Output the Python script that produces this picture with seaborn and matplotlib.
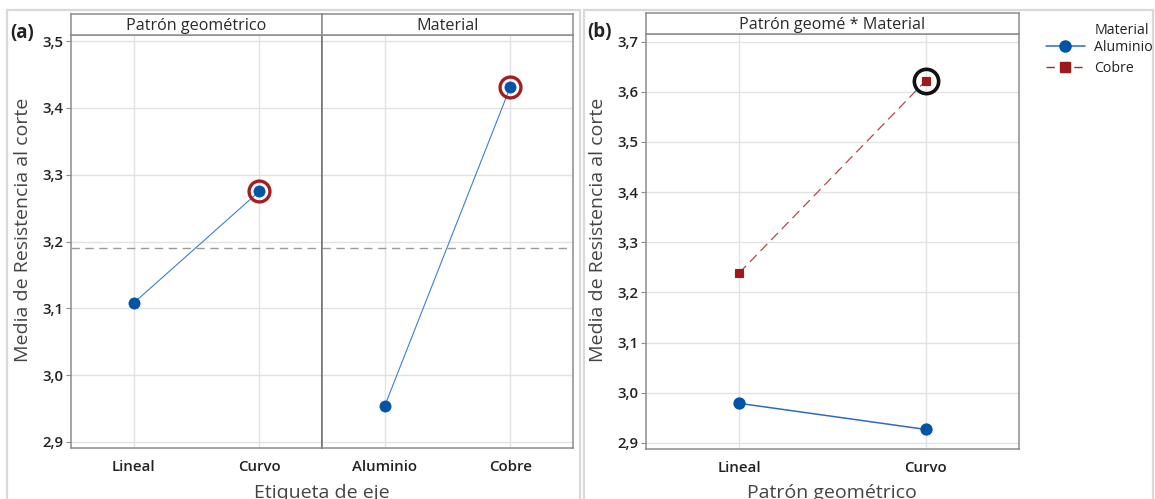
import matplotlib
matplotlib.use("Agg")
import matplotlib.pyplot as plt
import seaborn as sns
import pandas as pd
import numpy as np
from matplotlib.patches import Rectangle
from matplotlib.lines import Line2D
from matplotlib.ticker import FixedLocator, FixedFormatter

# ---- data: means of shear strength ----
patron = ["Lineal", "Curvo"]
material = ["Aluminio", "Cobre"]
media_patron = [3.108, 3.275]        # main effect: geometric pattern
media_material = [2.954, 3.431]      # main effect: material
media_global = 3.191                 # overall mean (reference line)
media_aluminio = [2.979, 2.927]      # interaction: Aluminio at Lineal, Curvo
media_cobre = [3.239, 3.622]         # interaction: Cobre at Lineal, Curvo

yticks_a = [2.9, 3.0, 3.1, 3.2, 3.3, 3.4, 3.5]
yticks_b = [2.9, 3.0, 3.1, 3.2, 3.3, 3.4, 3.5, 3.6, 3.7]
ylabel = "Media de Resistencia al corte"

W, H = 1155, 499
BLUE = "#0054a6"
BLUE_LINE = "#3d7fcf"
RED = "#9e1a1a"
RING_RED = "#a31e22"
GRID = "#e2e2e2"
SPINE = "#8c8c8c"
TXT = "#2a2a2a"

sns.set_theme(style="white")
plt.rcParams["font.family"] = ["Open Sans", "DejaVu Sans"]
plt.rcParams["lines.scale_dashes"] = False

fig = plt.figure(figsize=(W / 100, H / 100), dpi=100)


def fx(px):
    return px / W


def fy(px):
    return 1 - px / H


def comma(v):
    return f"{v:.1f}".replace(".", ",")


def style_axes(ax, yticks, ylim, show_y):
    ax.set_xlim(-0.5, 1.5)
    ax.set_ylim(*ylim)
    ax.set_xlabel("")
    ax.set_ylabel("")
    ax.yaxis.set_major_locator(FixedLocator(yticks))
    ax.yaxis.set_major_formatter(FixedFormatter([comma(v) for v in yticks]))
    ax.grid(True, color=GRID, linewidth=1.0)
    ax.set_axisbelow(True)
    for s in ax.spines.values():
        s.set_color(SPINE)
        s.set_linewidth(1.1)
    ax.tick_params(axis="both", which="both", length=3.5, width=0.8,
                   color=SPINE, labelsize=10.8, labelcolor="#222222")
    ax.tick_params(axis="x", pad=5)
    ax.tick_params(axis="y", pad=2, left=show_y, labelleft=show_y)
    for lab in ax.get_xticklabels() + ax.get_yticklabels():
        lab.set_fontweight("semibold")


def strip(x0, x1, y0, y1, text):
    s = fig.add_axes([fx(x0), fy(y1), fx(x1 - x0), (y1 - y0) / H])
    s.set_xticks([])
    s.set_yticks([])
    s.set_facecolor("white")
    for sp in s.spines.values():
        sp.set_color(SPINE)
        sp.set_linewidth(1.1)
    s.text(0.5, 0.45, text, ha="center", va="center", fontsize=11.6, color=TXT,
           transform=s.transAxes)
    return s


# ---- outer panel frames ----
for x0, x1 in [(7, 580), (584, 1153)]:
    fig.add_artist(Rectangle((fx(x0), -0.1), fx(x1 - x0), fy(10) + 0.1,
                             transform=fig.transFigure, fill=False,
                             edgecolor="#d9d9d9", linewidth=1.6))

# ---- (a) main effects ----
ylim_a = (2.891, 3.509)
ax1 = fig.add_axes([fx(71), fy(448), fx(251), (448 - 35) / H])
ax2 = fig.add_axes([fx(322), fy(448), fx(251), (448 - 35) / H])

df_p = pd.DataFrame({"nivel": patron, "media": media_patron})
df_m = pd.DataFrame({"nivel": material, "media": media_material})

for ax, df, order, vals in [(ax1, df_p, patron, media_patron),
                            (ax2, df_m, material, media_material)]:
    sns.pointplot(data=df, x="nivel", y="media", order=order, color=BLUE,
                  errorbar=None, markers="o", linestyles="-",
                  markersize=8, linewidth=0.8, ax=ax)
    ln = ax.lines[0]
    ln.set_color(BLUE_LINE)
    ln.set_markerfacecolor(BLUE)
    ln.set_markeredgecolor(BLUE)
    ax.axhline(media_global, color="#9a9a9a", linewidth=1.0,
               dashes=(6, 4), zorder=1)
    i = int(np.argmax(vals))
    ax.plot([i], [vals[i]], marker="o", markersize=15, markerfacecolor="none",
            markeredgecolor=RING_RED, markeredgewidth=2.4, linestyle="none",
            zorder=5)
    style_axes(ax, yticks_a, ylim_a, show_y=(ax is ax1))

ax1.spines["right"].set_color("#707070")
ax2.spines["left"].set_color("#707070")

strip(71, 322, 14, 35, "Patrón geométrico")
strip(322, 573, 14, 35, "Material")

fig.text(fx(22), fy(33), "(a)", fontsize=13.5, fontweight="bold",
         ha="center", va="center", color="#222222")
fig.text(fx(23), fy(230), ylabel, rotation=90, fontsize=14, color="#444444",
         ha="center", va="center")
fig.text(fx(322), fy(498), "Etiqueta de eje", fontsize=14, color="#444444",
         ha="center", va="baseline")

# ---- (b) interaction ----
ylim_b = (2.888, 3.715)
ax3 = fig.add_axes([fx(646), fy(449), fx(1019 - 646), (449 - 34) / H])
df_i = pd.DataFrame({
    "patron": patron * 2,
    "material": [material[0]] * 2 + [material[1]] * 2,
    "media": media_aluminio + media_cobre,
})
sns.pointplot(data=df_i, x="patron", y="media", hue="material", order=patron,
              hue_order=material, palette=[BLUE, RED], markers=["o", "s"],
              linestyles=["-", "--"], errorbar=None, markersize=8,
              linewidth=1.1, legend=False, ax=ax3)
l_al, l_cu = ax3.lines[0], ax3.lines[1]
l_al.set_color("#2b6cc0")
l_al.set_markerfacecolor(BLUE)
l_al.set_markeredgecolor(BLUE)
l_al.set_markersize(8)
l_cu.set_color("#b5474a")
l_cu.set_linewidth(0.9)
l_cu.set_dashes((7, 4))
l_cu.set_markerfacecolor(RED)
l_cu.set_markeredgecolor(RED)
l_cu.set_markersize(6)

j = int(np.argmax(media_cobre))
ax3.plot([j], [media_cobre[j]], marker="o", markersize=17.5,
         markerfacecolor="none", markeredgecolor="#111111",
         markeredgewidth=2.6, linestyle="none", zorder=5)
style_axes(ax3, yticks_b, ylim_b, show_y=True)

strip(646, 1019, 13, 34, "Patrón geomé * Material")

fig.text(fx(599), fy(32), "(b)", fontsize=13.5, fontweight="bold",
         ha="center", va="center", color="#222222")
fig.text(fx(598), fy(230), ylabel, rotation=90, fontsize=14, color="#444444",
         ha="center", va="center")
fig.text(fx(832), fy(498), "Patrón geométrico", fontsize=14,
         color="#444444", ha="center", va="baseline")

# legend
handles = [
    Line2D([], [], color="#2b6cc0", linewidth=1.1, marker="o", markersize=8,
           markerfacecolor=BLUE, markeredgecolor=BLUE),
    Line2D([], [], color="#a82a2a", linewidth=1.0, dashes=(6, 4), marker="s",
           markersize=6.5, markerfacecolor=RED, markeredgecolor=RED),
]
fig.legend(handles, material, loc="upper left",
           bbox_to_anchor=(fx(1046), fy(40)), frameon=False, fontsize=10.2,
           handlelength=2.75, handletextpad=0.65, labelspacing=0.42,
           borderpad=0, borderaxespad=0, labelcolor="#222222")
fig.text(fx(1095), fy(30), "Material", fontsize=10.2, color="#222222",
         ha="left", va="center")

fig.savefig("out.png", dpi=100)
